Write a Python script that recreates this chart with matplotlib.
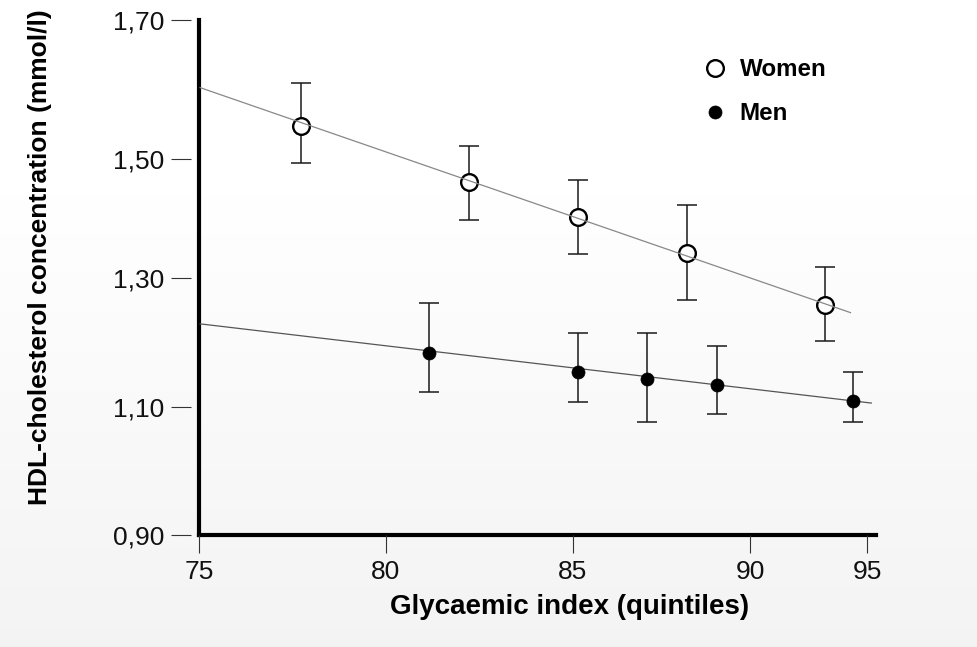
import numpy as np
import matplotlib
matplotlib.use("Agg")
import matplotlib.pyplot as plt

# ---------------- data ----------------
women_x = [77.72, 82.22, 85.15, 88.22, 93.21]
women_y = [1.547, 1.462, 1.403, 1.342, 1.258]
women_lo = [1.493, 1.398, 1.340, 1.266, 1.203]
women_hi = [1.609, 1.519, 1.465, 1.422, 1.319]

men_x = [81.14, 85.13, 87.08, 89.06, 94.39]
men_y = [1.184, 1.155, 1.143, 1.134, 1.109]
men_lo = [1.123, 1.107, 1.076, 1.089, 1.076]
men_hi = [1.261, 1.214, 1.214, 1.195, 1.154]

women_fit_x = [75.0, 94.32]
women_fit_y = [1.603, 1.246]
men_fit_x = [75.0, 95.21]
men_fit_y = [1.229, 1.106]

x_ticks = [75, 80, 85, 90, 95]
x_ticklabels = ["75", "80", "85", "90", "95"]
y_ticks = [0.90, 1.10, 1.30, 1.50, 1.70]
y_ticklabels = ["0,90", "1,10", "1,30", "1,50", "1,70"]
series_labels = ["Women", "Men"]
x_label = "Glycaemic index (quintiles)"
y_label = "HDL-cholesterol concentration (mmol/l)"

# ---------------- the source axes are not uniformly spaced ----------------
X_SCALE_VALS = [50, 75, 80, 85, 90, 95, 120]
X_SCALE_POS = [199.5 - 5 * 186.5, 199.5, 386, 573, 750, 867, 867 + 25 * 23.4]
Y_SCALE_VALS = [0.0, 0.90, 1.10, 1.30, 1.50, 1.70, 3.0]
Y_SCALE_POS = [112 - 0.9 * 640, 112, 240, 369, 488, 627, 627 + 1.3 * 695]


def xf(v):
    return np.interp(v, X_SCALE_VALS, X_SCALE_POS)


def xi(p):
    return np.interp(p, X_SCALE_POS, X_SCALE_VALS)


def yf(v):
    return np.interp(v, Y_SCALE_VALS, Y_SCALE_POS)


def yi(p):
    return np.interp(p, Y_SCALE_POS, Y_SCALE_VALS)


plt.rcParams["font.family"] = ["Liberation Sans", "DejaVu Sans"]

W, H = 978, 647
fig = plt.figure(figsize=(W / 100, H / 100), dpi=100)

# subtle vertical background gradient (white -> very light grey)
t = np.linspace(0, 1, H)[:, None]
g = np.where(t < 0.3, 1.0, 1.0 - 0.045 * ((t - 0.3) / 0.7))
grad = np.repeat(g, W, axis=1)
fig.figimage(np.dstack([grad, grad, grad]), xo=0, yo=0, origin="upper", zorder=-10)

left_px, right_px, top_px, bot_px = 199.5, 876, 20, 535
rect = [left_px / W, (H - bot_px) / H, (right_px - left_px) / W, (bot_px - top_px) / H]

# frame axes: the thick axis lines
axf = fig.add_axes(rect, zorder=1)
axf.patch.set_alpha(0)
for s in ["top", "right"]:
    axf.spines[s].set_visible(False)
for s in ["left", "bottom"]:
    axf.spines[s].set_linewidth(3.0)
    axf.spines[s].set_color("black")
axf.set_xticks([])
axf.set_yticks([])

# data axes
ax = fig.add_axes(rect, zorder=2)
ax.patch.set_alpha(0)
ax.set_xscale("function", functions=(xf, xi))
ax.set_yscale("function", functions=(yf, yi))
ax.set_xlim(75, xi(right_px))
ax.set_ylim(0.90, 1.70)
for s in ["top", "right", "left", "bottom"]:
    ax.spines[s].set_visible(False)
ax.spines["left"].set_position(("outward", 5.8))

ax.set_xticks(x_ticks)
ax.set_xticklabels(x_ticklabels)
ax.set_yticks(y_ticks)
ax.set_yticklabels(y_ticklabels)
ax.minorticks_off()
ax.tick_params(axis="x", direction="out", length=13, width=0.8, color="#333333",
               pad=5, labelsize=19, labelcolor="#111111")
ax.tick_params(axis="y", direction="out", length=14.4, width=0.8, color="#333333",
               pad=5, labelsize=19, labelcolor="#111111")

ax.set_xlabel(x_label, fontsize=20, fontweight="bold")
ax.xaxis.set_label_coords((569.5 - left_px) / (right_px - left_px), -(607 - bot_px) / (bot_px - top_px))
ax.xaxis.label.set_va("center")
ax.set_ylabel(y_label, fontsize=19, fontweight="bold")
ax.yaxis.set_label_coords(-(left_px - 40) / (right_px - left_px), (bot_px - 257) / (bot_px - top_px))
ax.yaxis.label.set_va("center")

# error bars
ax.errorbar(women_x, women_y,
            yerr=[np.subtract(women_y, women_lo), np.subtract(women_hi, women_y)],
            fmt="none", ecolor="#1a1a1a", elinewidth=1.1, capsize=7.5, capthick=1.1, zorder=2)
ax.errorbar(men_x, men_y,
            yerr=[np.subtract(men_y, men_lo), np.subtract(men_hi, men_y)],
            fmt="none", ecolor="#1a1a1a", elinewidth=1.1, capsize=7.5, capthick=1.1, zorder=2)

# fit lines
ax.plot(men_fit_x, men_fit_y, color="#555555", lw=0.9, zorder=3, solid_capstyle="butt")

# markers
hw, = ax.plot(women_x, women_y, "o", ms=12, mfc="white", mec="black", mew=1.7,
              ls="none", zorder=4, label=series_labels[0])
hm, = ax.plot(men_x, men_y, "o", ms=9.4, mfc="black", mec="black", mew=0.5,
              ls="none", zorder=4, label=series_labels[1])

ax.plot(women_fit_x, women_fit_y, color="#888888", lw=0.9, zorder=5, solid_capstyle="butt")

leg = ax.legend(handles=[hw, hm], labels=series_labels, loc="upper left",
                bbox_to_anchor=(704 / W, 1 - 58 / H), bbox_transform=fig.transFigure,
                frameon=False, borderpad=0, borderaxespad=0, handlelength=0.92,
                handletextpad=0.55, labelspacing=0.87, numpoints=1,
                prop={"size": 17.4, "weight": "bold"})

fig.savefig("out.png", dpi=100)
